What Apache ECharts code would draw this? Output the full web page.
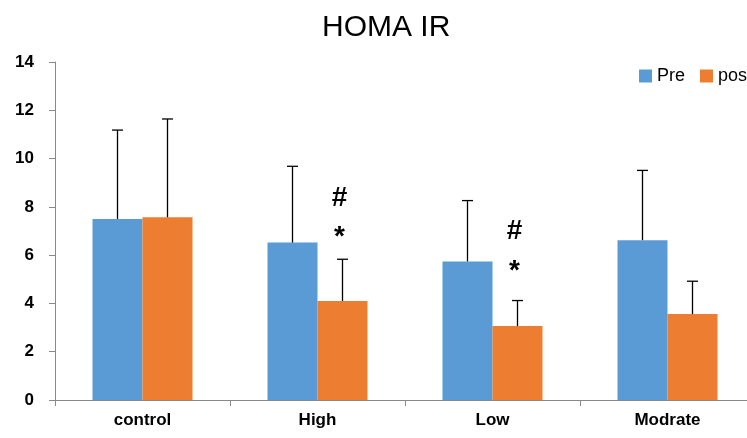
<!DOCTYPE html>
<html>
<head>
<meta charset="utf-8">
<script src="https://cdn.jsdelivr.net/npm/echarts@6/dist/echarts.min.js"></script>
<style>
html,body{margin:0;padding:0;background:#fff;overflow:hidden;}
#chart{width:755px;height:438px;}
</style>
</head>
<body>
<div id="chart"></div>
<script>
var categories = ['control', 'High', 'Low', 'Modrate'];
var preValues = [7.5, 6.52, 5.74, 6.62];
var preErrorTop = [11.18, 9.68, 8.26, 9.51];
var postValues = [7.57, 4.1, 3.06, 3.56];
var postErrorTop = [11.64, 5.83, 4.12, 4.92];
var hashMarkY = [null, 8.37, 6.97, null];
var starMarkY = [null, 6.72, 5.32, null];
var yTicks = [0, 2, 4, 6, 8, 10, 12, 14];

var chart = echarts.init(document.getElementById('chart'));
var BAR_FRAC = 50 / 175;
var FONT = '"Liberation Sans", Arial, sans-serif';

function errorSeries(name, tops, vals, side) {
  var data = categories.map(function (c, i) { return [i, vals[i], tops[i]]; });
  return {
    type: 'custom',
    name: name + '_err',
    z: 5,
    data: data,
    encode: { x: 0, y: [1, 2] },
    renderItem: function (params, api) {
      var i = api.value(0);
      var bottom = api.coord([i, api.value(1)]);
      var top = api.coord([i, api.value(2)]);
      var cw = api.size([1, 0])[0];
      var x = bottom[0] + side * cw * BAR_FRAC / 2;
      var style = { stroke: '#000', lineWidth: 1.3 };
      return {
        type: 'group',
        children: [
          { type: 'line', shape: { x1: x, y1: bottom[1], x2: x, y2: top[1] }, style: style },
          { type: 'line', shape: { x1: x - 5.5, y1: top[1], x2: x + 5.5, y2: top[1] }, style: style }
        ]
      };
    }
  };
}

function markSeries(name, ys, text) {
  var data = [];
  ys.forEach(function (v, i) { if (v != null) data.push([i, v]); });
  return {
    type: 'custom',
    name: name,
    z: 6,
    data: data,
    renderItem: function (params, api) {
      var p = api.coord([api.value(0), api.value(1)]);
      var cw = api.size([1, 0])[0];
      return {
        type: 'text',
        x: p[0] + cw * BAR_FRAC / 2 - 3,
        y: p[1],
        style: {
          text: text,
          fill: '#000',
          font: 'bold 28px ' + FONT,
          textAlign: 'center',
          textVerticalAlign: 'middle'
        }
      };
    }
  };
}

var legendText = { fontFamily: FONT, fontSize: 18, color: '#000' };

chart.setOption({
  animation: false,
  title: {
    text: 'HOMA IR',
    left: 317,
    top: 8,
    textStyle: { fontFamily: FONT, fontSize: 30, fontWeight: 'normal', color: '#000' }
  },
  legend: [
    { data: ['Pre'], left: 634, top: 62, itemWidth: 13, itemHeight: 13, icon: 'rect', itemGap: 5, textStyle: legendText },
    { data: ['post'], left: 695, top: 62, itemWidth: 13, itemHeight: 13, icon: 'rect', itemGap: 5, textStyle: legendText }
  ],
  grid: { left: 55, top: 62, right: 0, bottom: 38, containLabel: false },
  xAxis: {
    type: 'category',
    data: categories,
    axisLine: { lineStyle: { color: '#898989', width: 1 } },
    axisTick: { show: true, alignWithLabel: false, length: 6, lineStyle: { color: '#898989' } },
    axisLabel: { color: '#000', fontSize: 17, fontWeight: 'bold', fontFamily: FONT, margin: 12 }
  },
  yAxis: {
    type: 'value',
    min: 0,
    max: 14,
    interval: 2,
    splitLine: { show: false },
    axisLine: { show: true, lineStyle: { color: '#898989', width: 1 } },
    axisTick: { show: true, length: 6, lineStyle: { color: '#898989' } },
    axisLabel: {
      color: '#000', fontSize: 17, fontWeight: 'bold', fontFamily: FONT, margin: 21,
      formatter: function (v) { return yTicks.indexOf(v) >= 0 ? String(v) : ''; }
    }
  },
  series: [
    { type: 'bar', name: 'Pre', data: preValues, barGap: '0%', barCategoryGap: '42.857%',
      itemStyle: { color: '#5B9BD5' } },
    { type: 'bar', name: 'post', data: postValues, barGap: '0%', barCategoryGap: '42.857%',
      itemStyle: { color: '#ED7D31' } },
    errorSeries('Pre', preErrorTop, preValues, -1),
    errorSeries('post', postErrorTop, postValues, 1),
    markSeries('hash', hashMarkY, '#'),
    markSeries('star', starMarkY, '*')
  ]
});
</script>
</body>
</html>
